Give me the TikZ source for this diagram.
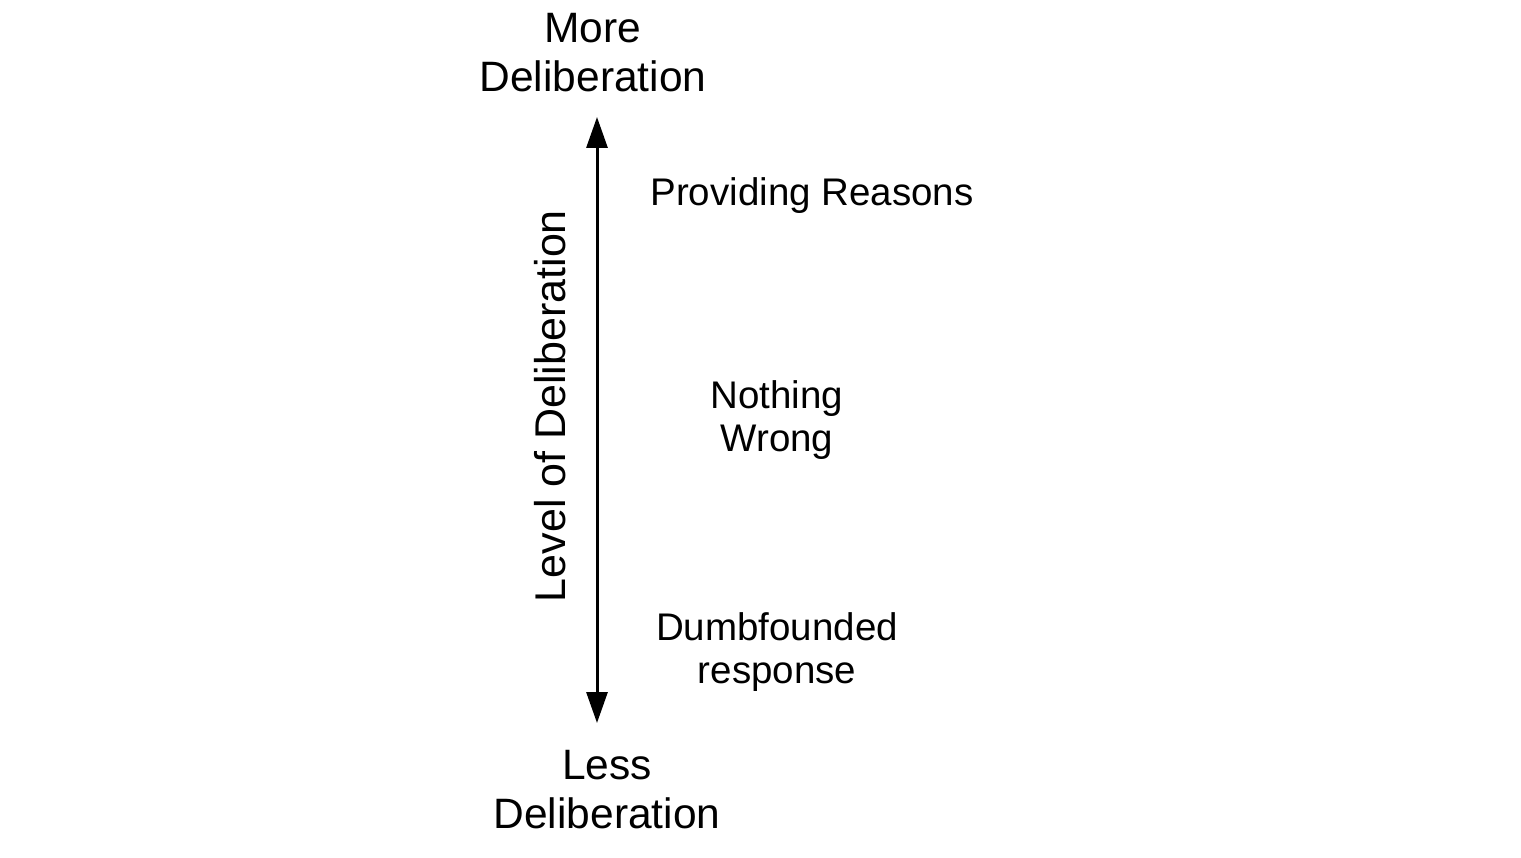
\documentclass[tikz,border=0pt]{standalone}
\usepackage{fontspec}
\setmainfont{Liberation Sans}
\usetikzlibrary{arrows.meta}
\begin{document}
\begin{tikzpicture}[x=1pt,y=-1pt,
  big/.style={inner sep=0pt,align=center,font=\fontsize{42.5}{49}\selectfont},
  label/.style={inner sep=0pt,align=center,font=\fontsize{38.5}{43}\selectfont},
  axis/.style={line width=3pt,{Triangle[length=31pt,width=21pt]}-{Triangle[length=31pt,width=21pt]}}]
\useasboundingbox (0,0) rectangle (1521,858);
\node[big] (more) at (593,53) {More\\Deliberation};
\node[big] (less) at (607,790) {Less\\Deliberation};
\node[label] (reasons) at (812,196) {Providing Reasons};
\node[label] (nothing) at (777,420) {Nothing\\Wrong};
\node[label] (dumb) at (777,652) {Dumbfounded\\response};
\node[rotate=90,inner sep=0pt,font=\fontsize{43}{49}\selectfont] (level) at (550,406) {Level of Deliberation};
\coordinate (top) at (597,117);
\coordinate (bot) at (597,723);
\draw[axis] (bot) -- (top);
\end{tikzpicture}
\end{document}
